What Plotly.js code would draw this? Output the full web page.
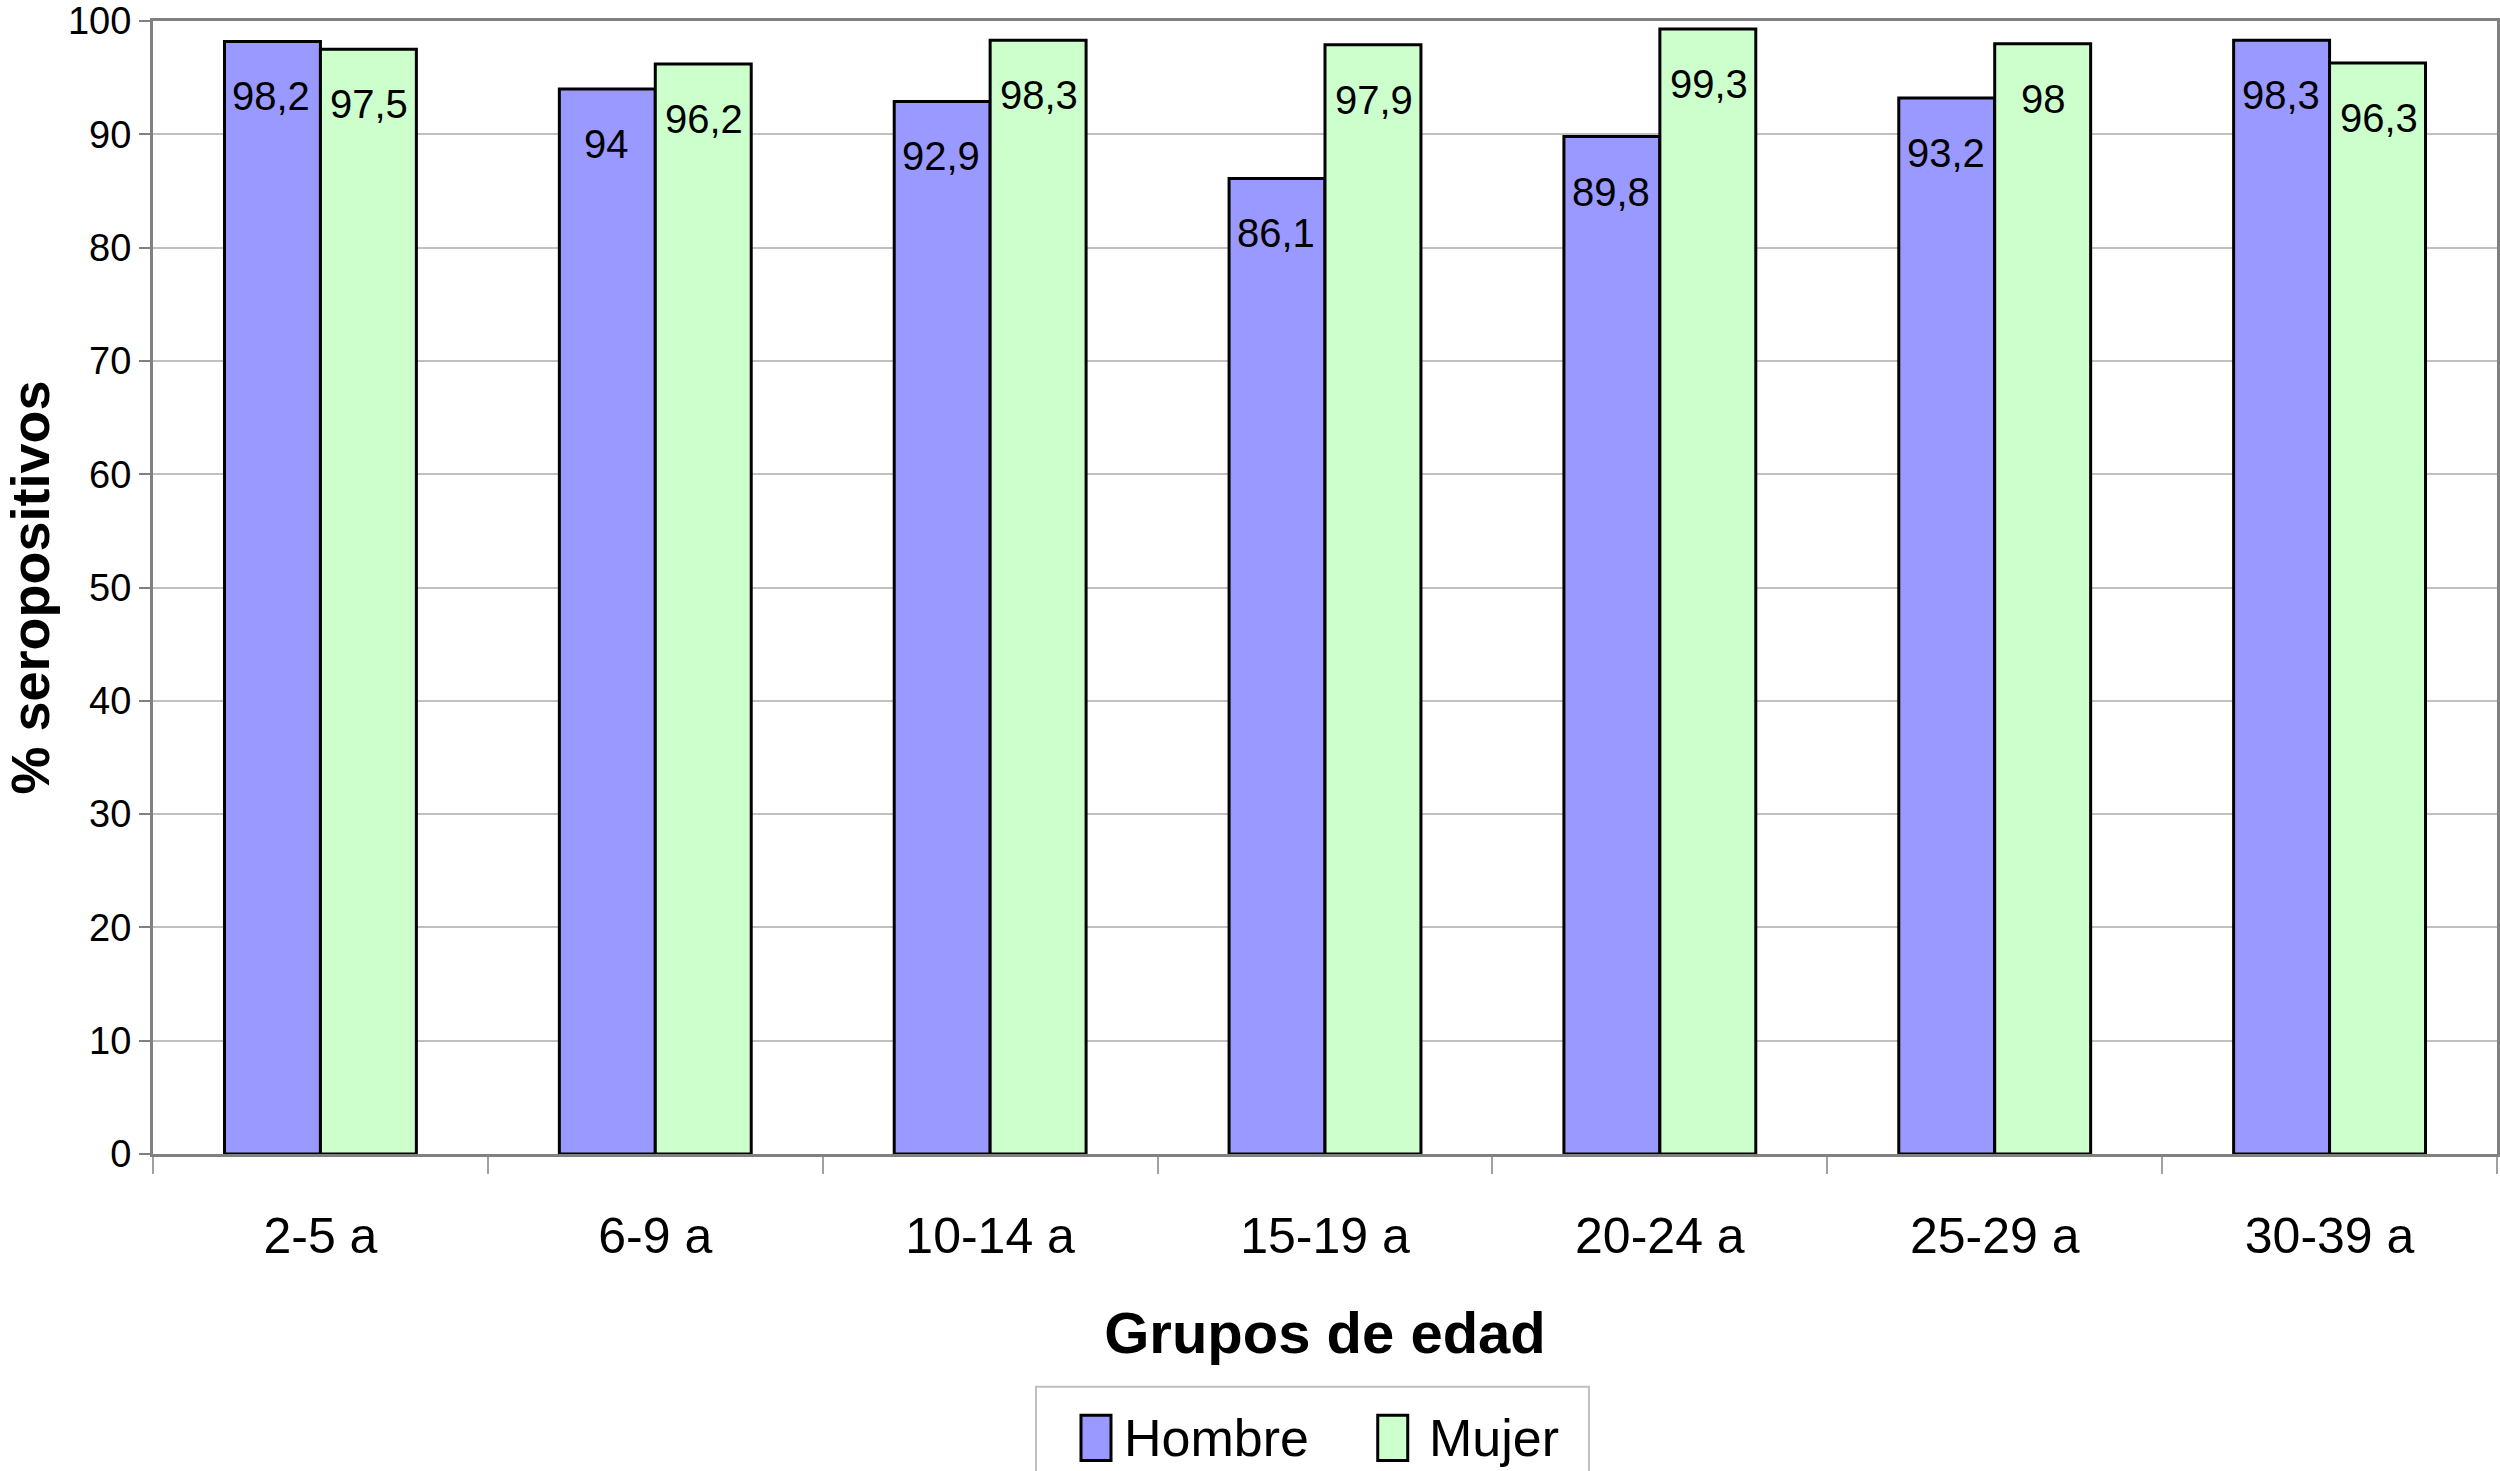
<!DOCTYPE html>
<html>
<head>
<meta charset="utf-8">
<script src="https://cdn.plot.ly/plotly-3.0.1.min.js"></script>
<style>html,body{margin:0;padding:0;background:#fff;}#chart{width:2500px;height:1471px;}</style>
</head>
<body>
<div id="chart"></div>
<script>
const categories = ["2-5 a", "6-9 a", "10-14 a", "15-19 a", "20-24 a", "25-29 a", "30-39 a"];
const hombre = [98.2, 94, 92.9, 86.1, 89.8, 93.2, 98.3];
const mujer = [97.5, 96.2, 98.3, 97.9, 99.3, 98, 96.3];
const hombreLabels = ["98,2", "94", "92,9", "86,1", "89,8", "93,2", "98,3"];
const mujerLabels = ["97,5", "96,2", "98,3", "97,9", "99,3", "98", "96,3"];
const yTicks = [0, 10, 20, 30, 40, 50, 60, 70, 80, 90, 100];
const seriesNames = ["Hombre", "Mujer"];
const seriesColors = ["#9999FF", "#CCFFCC"];

const FONT = "Liberation Sans, Arial, sans-serif";

const traces = [
  {type: "bar", name: seriesNames[0], x: categories, y: hombre, showlegend: false,
   marker: {color: seriesColors[0], line: {color: "#000000", width: 3}}, hoverinfo: "none"},
  {type: "bar", name: seriesNames[1], x: categories, y: mujer, showlegend: false,
   marker: {color: seriesColors[1], line: {color: "#000000", width: 3}}, hoverinfo: "none"}
];

const annotations = [];
[[hombre, hombreLabels, -1], [mujer, mujerLabels, 1]].forEach(([vals, labs, side]) => {
  vals.forEach((v, i) => {
    annotations.push({x: categories[i], y: v, xref: "x", yref: "y", text: labs[i],
      showarrow: false, xshift: side * 49, yshift: -55, yanchor: "middle",
      font: {family: FONT, size: 40, color: "#000"}});
  });
});

// custom legend (box, swatches, names)
const shapes = [
  {type: "rect", xref: "paper", yref: "paper", x0: 0.3767, x1: 0.6126, y0: -0.30, y1: -0.2055,
   line: {color: "#BFBFBF", width: 2}, fillcolor: "#ffffff", layer: "above"}
];
const swatchX = [0.3959, 0.5225];
const textX = [0.4135, 0.5437];
seriesNames.forEach((n, k) => {
  shapes.push({type: "rect", xref: "paper", yref: "paper", x0: swatchX[k], x1: swatchX[k] + 0.0128,
    y0: -0.2705, y1: -0.2305, line: {color: "#000", width: 3}, fillcolor: seriesColors[k], layer: "above"});
  annotations.push({xref: "paper", yref: "paper", x: textX[k], y: -0.2505, xanchor: "left", yanchor: "middle",
    text: n, showarrow: false, font: {family: FONT, size: 52, color: "#000"}});
});

const layout = {
  width: 2500, height: 1471,
  margin: {l: 153, r: 3, t: 21, b: 317},
  paper_bgcolor: "#ffffff", plot_bgcolor: "#ffffff",
  font: {family: FONT, color: "#000"},
  barmode: "group", bargap: 0.427, bargroupgap: 0,
  showlegend: false,
  xaxis: {type: "category", showgrid: false, showline: true, linecolor: "#808080", linewidth: 3,
    mirror: true, ticks: "outside", tickson: "boundaries", ticklen: 17, tickcolor: "#A0A0A0", tickwidth: 2,
    ticklabelstandoff: 36,
    tickfont: {family: FONT, size: 50, color: "#000"},
    title: {text: "<b>Grupos de edad</b>", font: {family: FONT, size: 58, color: "#000"}, standoff: 50}},
  yaxis: {range: [0, 100], tickvals: yTicks, showgrid: true, gridcolor: "#C0C0C0", gridwidth: 2,
    showline: true, linecolor: "#808080", linewidth: 3, mirror: true, zeroline: false,
    ticks: "outside", ticklen: 11, tickcolor: "#808080", tickwidth: 2, ticklabeloverflow: "allow",
    tickfont: {family: FONT, size: 38, color: "#000"},
    title: {text: "<b>% seropositivos</b>", font: {family: FONT, size: 54, color: "#000"}, standoff: 34}},
  shapes: shapes,
  annotations: annotations
};

Plotly.newPlot("chart", traces, layout, {displayModeBar: false, staticPlot: true});
</script>
</body>
</html>
